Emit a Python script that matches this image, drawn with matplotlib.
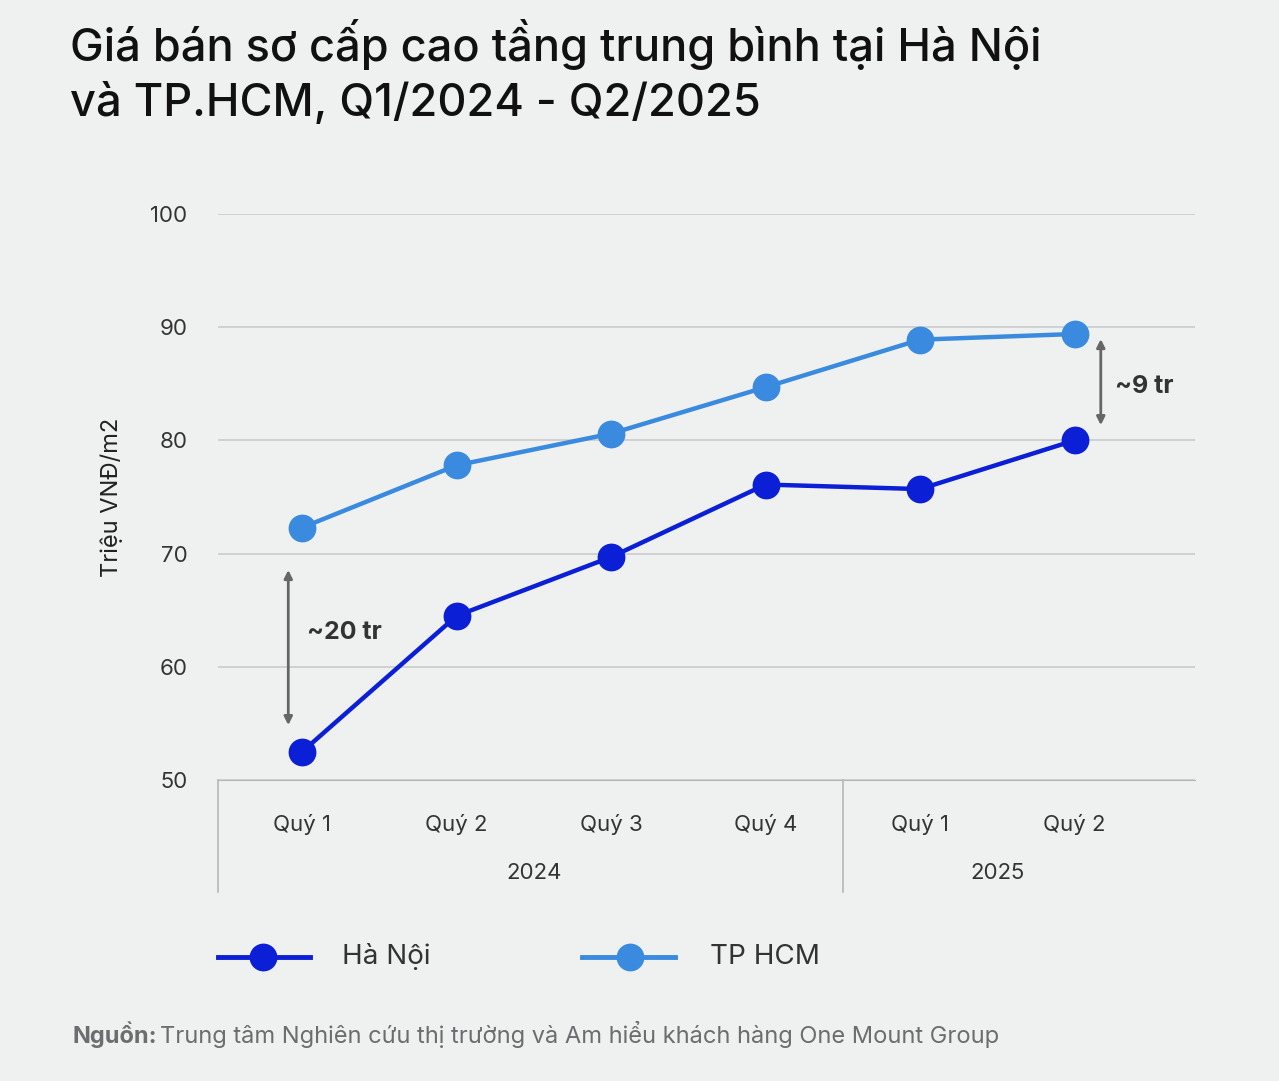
import matplotlib
matplotlib.use('Agg')
import matplotlib.pyplot as plt
from matplotlib.lines import Line2D

plt.rcParams['font.family'] = 'Inter'

quarters = ['Quý 1', 'Quý 2', 'Quý 3', 'Quý 4', 'Quý 1', 'Quý 2']
years = ['2024', '2025']
hanoi = [52.5, 64.5, 69.7, 76.1, 75.7, 80.0]
hcm = [72.3, 77.8, 80.6, 84.7, 88.9, 89.4]
yticks = [50, 60, 70, 80, 90, 100]

bg = '#eff0f0'
c_hn = '#0a1fd6'
c_hcm = '#3a8be0'
W, H = 1279, 1081

fig = plt.figure(figsize=(W / 100, H / 100), dpi=100, facecolor=bg)
ax = fig.add_axes([218 / W, 1 - 780 / H, (1195 - 218) / W, (780 - 214) / H], facecolor=bg)

x = list(range(len(quarters)))
ax.plot(x, hcm, color=c_hcm, lw=3.2, marker='o', ms=19, zorder=3)
ax.plot(x, hanoi, color=c_hn, lw=3.2, marker='o', ms=19, zorder=3)

ax.set_xlim(-0.545, 5.78)
ax.set_ylim(50, 100)
ax.set_yticks(yticks)
ax.grid(axis='y', color='#c9cbcc', lw=1.2)
ax.set_axisbelow(True)
for s in ['top', 'right', 'left']:
    ax.spines[s].set_visible(False)
ax.spines['bottom'].set_color('#b5b7b8')
ax.tick_params(axis='y', length=0, pad=22, labelsize=16, labelcolor='#333333')
ax.set_xticks([])
ax.set_ylabel('Triệu VNĐ/m2', fontsize=17, color='#222222', labelpad=20)

# category labels below axis
for i, q in enumerate(quarters):
    ax.annotate(q, (i, 50), xytext=(0, -32), textcoords='offset points',
                ha='center', va='center', fontsize=16, color='#333333', annotation_clip=False)
ax.annotate(years[0], (1.5, 50), xytext=(0, -67), textcoords='offset points',
            ha='center', va='center', fontsize=16, color='#333333', annotation_clip=False)
ax.annotate(years[1], (4.5, 50), xytext=(0, -67), textcoords='offset points',
            ha='center', va='center', fontsize=16, color='#333333', annotation_clip=False)
for xv in [-0.545, 3.5]:
    ax.plot([xv, xv], [50, 40.1], color='#b5b7b8', lw=1.2, clip_on=False)

# gap annotations
arrow = dict(arrowstyle='<|-|>', color='#666666', lw=2, mutation_scale=12)
ax.annotate('', xy=(-0.09, 54.6), xytext=(-0.09, 68.8), arrowprops=arrow)
ax.text(0.03, 63.0, '~20 tr', fontsize=18, fontweight='bold', color='#333333', va='center')
ax.annotate('', xy=(5.17, 81.1), xytext=(5.17, 89.2), arrowprops=arrow)
ax.text(5.26, 84.8, '~9 tr', fontsize=18, fontweight='bold', color='#333333', va='center')

# legend
ly = 1 - 957 / H
fig.add_artist(Line2D([218 / W, 310 / W], [ly, ly], color=c_hn, lw=3.5))
fig.add_artist(Line2D([263 / W], [ly], color=c_hn, marker='o', ms=19))
fig.text(342 / W, ly, 'Hà Nội', fontsize=20, color='#333333', va='center')
fig.add_artist(Line2D([582 / W, 675 / W], [ly, ly], color=c_hcm, lw=3.5))
fig.add_artist(Line2D([630 / W], [ly], color=c_hcm, marker='o', ms=19))
fig.text(710 / W, ly, 'TP HCM', fontsize=20, color='#333333', va='center')

# title and source
fig.text(70 / W, 1 - 45 / H, 'Giá bán sơ cấp cao tầng trung bình tại Hà Nội',
         fontsize=32.5, fontweight='medium', color='#111111', va='center')
fig.text(70 / W, 1 - 103 / H, 'và TP.HCM, Q1/2024 - Q2/2025',
         fontsize=32.5, fontweight='medium', color='#111111', va='center')
fig.text(73 / W, 1 - 1035 / H, 'Nguồn:', fontsize=17, fontweight='bold', color='#6b6d6e', va='center')
fig.text(160 / W, 1 - 1035 / H, 'Trung tâm Nghiên cứu thị trường và Am hiểu khách hàng One Mount Group',
         fontsize=17, color='#6b6d6e', va='center')

fig.savefig('out.png', dpi=100, facecolor=bg)
